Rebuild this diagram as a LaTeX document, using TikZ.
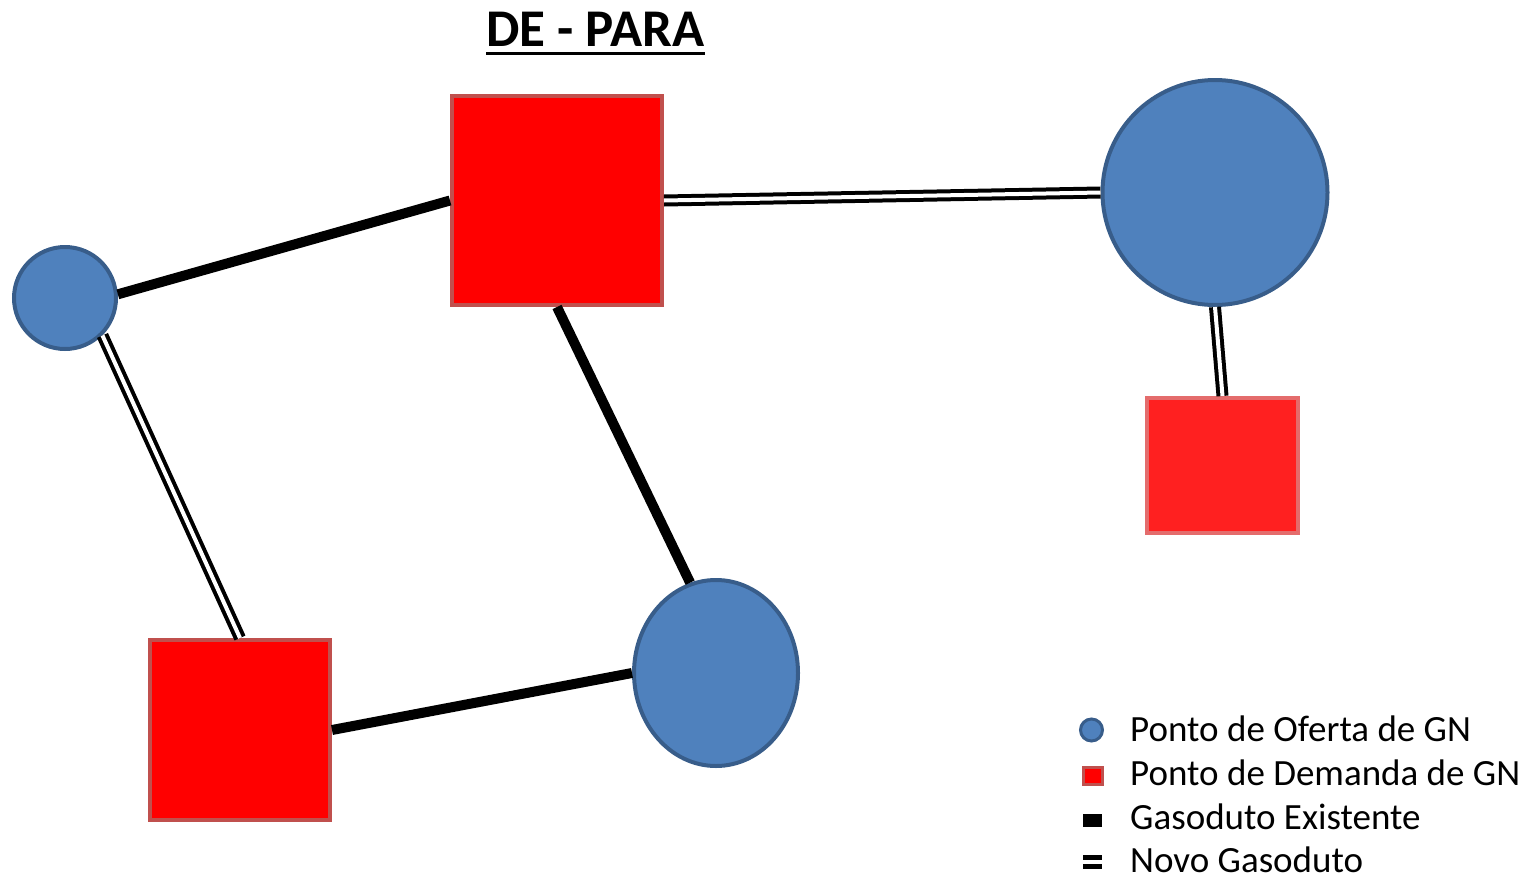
\documentclass[tikz,border=0pt]{standalone}
\usepackage{fontspec}
\setmainfont{Carlito}
\usetikzlibrary{shapes.geometric}
\definecolor{ofertafill}{HTML}{4F81BD}
\definecolor{ofertaline}{HTML}{385D8A}
\definecolor{demandafill}{HTML}{FF0000}
\definecolor{demandaline}{HTML}{C0504D}
\definecolor{demandafillb}{HTML}{FF2020}
\definecolor{demandalineb}{HTML}{E46C6C}
\tikzset{
  oferta/.style={circle, fill=ofertafill, draw=ofertaline, line width=4pt, inner sep=0pt},
  ofertaoval/.style={ellipse, fill=ofertafill, draw=ofertaline, line width=4pt, inner sep=0pt},
  demanda/.style={rectangle, fill=demandafill, draw=demandaline, line width=4pt, inner sep=0pt},
  existente/.style={line width=10pt, black},
  novo/.style={draw=black, line width=4pt, double=white, double distance=4pt},
  legtext/.style={anchor=base west, inner sep=0pt, font=\fontsize{37}{41}\selectfont}
}
\begin{document}
\begin{tikzpicture}[x=1pt, y=-1pt]
\useasboundingbox (0,0) rectangle (1525,878);

% title
\node[anchor=base, inner sep=0pt, font=\fontsize{53}{57}\selectfont\bfseries] (title) at (595.5,46) {DE - PARA};
\draw[line width=3pt] ([yshift=-7pt]title.base west) -- ([yshift=-7pt]title.base east);

% network nodes
\node[demanda, minimum width=210pt, minimum height=209pt] (A) at (557,200.5) {};
\node[oferta, minimum size=102pt] (B) at (65,298) {};
\node[oferta, minimum size=225pt] (C) at (1215,192.5) {};
\node[demanda, fill=demandafillb, draw=demandalineb, minimum width=151pt, minimum height=135pt] (D) at (1222.5,465.5) {};
\node[demanda, minimum width=180pt, minimum height=180pt] (E) at (240,730) {};
\node[ofertaoval, minimum width=164pt, minimum height=186pt] (F) at (716,673) {};

% existing pipelines
\draw[existente] (B.4) -- (A.west);
\draw[existente] (A.south) -- (F.106);
\draw[existente] (E.east) -- (F.west);

% new pipelines
\draw[novo] (A.east) -- (C.west);
\draw[novo] (C.south) -- (D.north);
\draw[novo] (B.-45) -- (E.north);

% legend
\node[oferta, line width=3pt, minimum size=22pt] (l1) at (1091.5,730) {};
\node[demanda, line width=3pt, minimum width=19pt, minimum height=17pt] (l2) at (1092.5,776) {};
\node[rectangle, fill=black, inner sep=0pt, minimum width=19pt, minimum height=13pt] (l3) at (1092.5,820.5) {};
\coordinate (l4a) at (1083,861.5);
\coordinate (l4b) at (1102,861.5);
\draw[line width=5pt, double=white, double distance=4pt] (l4a) -- (l4b);

\node[legtext] (t1) at (1130,741) {Ponto de Oferta de GN};
\node[legtext] (t2) at (1130,785) {Ponto de Demanda de GN};
\node[legtext] (t3) at (1130,829) {Gasoduto Existente};
\node[legtext] (t4) at (1130,872) {Novo Gasoduto};
\end{tikzpicture}
\end{document}
